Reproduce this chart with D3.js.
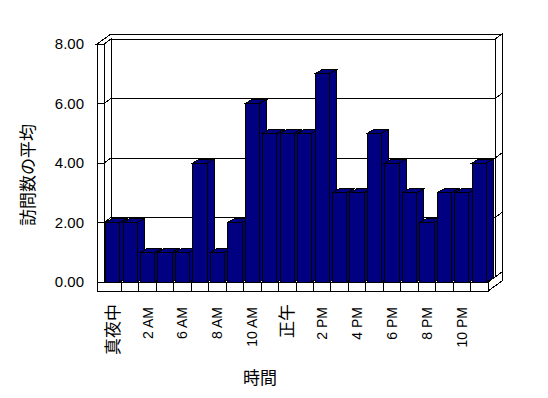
<!DOCTYPE html>
<html>
<head>
<meta charset="utf-8">
<script src="https://cdn.jsdelivr.net/npm/d3@7"></script>
<style>
  body { margin: 0; background: #fff; }
  text { font-family: "Liberation Sans", Arial, "Noto Sans CJK JP", sans-serif; fill: #000; }
</style>
</head>
<body>
<svg id="chart" width="548" height="398"></svg>
<script>
// 時間帯ごとの訪問数の平均
const categories = ["真夜中","1 AM","2 AM","3 AM","6 AM","7 AM","8 AM","9 AM","10 AM","11 AM",
    "正午","1 PM","2 PM","3 PM","4 PM","5 PM","6 PM","7 PM","8 PM","9 PM","10 PM","11 PM"]
const visits = [2,2,1,1,1,4,1,2,6,5,5,5,7,3,3,5,4,3,2,3,3,4]
const yTicks = [0,2,4,6,8]
const xTitle = "時間"
const yTitle = "訪問数の平均"

const svg = d3.select("#chart")
const BAR_COLOR = "#000080"
const DX = 7, DY = -5      // 壁の奥行き
const BDX = 7, BDY = -4    // 棒の奥行き
const WALL = 7, FLOOR = 9

let x = d3.scaleBand()
    .domain(categories)
    .range([104, 488])
    .paddingInner(0.18)
    .paddingOuter(0.09)
let xCat = d3.scaleBand()
    .domain(categories)
    .range([104, 488])
    .padding(0)
let y = d3.scaleLinear()
    .domain([0, 8])
    .range([282, 44])

const [x0, x1] = xCat.range()
const yB = y(0), yT = y(8)

// 奥行きを斜めに投影する
let p = (px, py, z) => [px + z*DX, py + z*DY]
let pb = (px, py, z) => [px + z*BDX, py + z*BDY]

let poly = (pts, fill) => svg.append("polygon")
    .attr("points", pts.map(d => d.join(",")).join(" "))
    .style("fill", fill)
    .style("stroke", "#000")
    .style("stroke-width", 1)
    .style("stroke-linejoin", "miter")
    .attr("shape-rendering", "crispEdges")

let line = (a, b) => svg.append("line")
    .attr("x1", a[0]).attr("y1", a[1])
    .attr("x2", b[0]).attr("y2", b[1])
    .style("stroke", "#000")
    .style("stroke-width", 1)
    .attr("shape-rendering", "crispEdges")

// 後ろの壁
poly([p(x0,yT,1), p(x1,yT,1), p(x1,yB,1), p(x0,yB,1)], "#fff")
poly([p(x1,yT,1), p(x1,yT,2), p(x1,yB,2), p(x1,yB,1)], "#fff")
poly([p(x0-WALL,yT,0), p(x0,yT,0), p(x0,yT,1), p(x1,yT,1), p(x1,yT,2), p(x0-WALL,yT,2)], "#fff")
// 床と左の壁
poly([p(x0,yB,0), p(x1,yB,0), p(x1,yB,1), p(x0,yB,1)], "#fff")
poly([p(x0,yT,0), p(x0,yT,1), p(x0,yB,1), p(x0,yB,0)], "#fff")
poly([p(x1,yB,0), p(x1,yB,2), p(x1,yB+FLOOR,2), p(x1,yB+FLOOR,0)], "#fff")

// 目盛線
yTicks.forEach(v => {
    const yy = y(v)
    line(p(x0,yy,1), p(x1,yy,1))
    line(p(x0,yy,0), p(x0,yy,1))
    if (v > 0) line(p(x1,yy,1), p(x1,yy,2))
})

// 棒
categories.forEach((c, i) => {
    const xl = x(c), xr = x(c) + x.bandwidth(), yv = y(visits[i])
    poly([[xl,yv], [xr,yv], [xr,yB], [xl,yB]], BAR_COLOR)
    poly([pb(xr,yv,0), pb(xr,yv,1), pb(xr,yB,1), pb(xr,yB,0)], BAR_COLOR)
    poly([pb(xl,yv,0), pb(xr,yv,0), pb(xr,yv,1), pb(xl,yv,1)], BAR_COLOR)
})

// 手前の壁と床の面
poly([[x0-WALL,yT], [x0,yT], [x0,yB], [x1,yB], [x1,yB+FLOOR], [x0-WALL,yB+FLOOR]], "#fff")
yTicks.forEach(v => line([x0-WALL, y(v)], [x0, y(v)]))
categories.slice(1).forEach(c => line([xCat(c), yB], [xCat(c), yB+FLOOR]))

// 軸ラベル
const isCJK = s => /[^\x00-\x7F]/.test(s)

svg.append("g").selectAll("text")
    .data(yTicks)
    .join("text")
    .attr("x", 84)
    .attr("y", d => y(d))
    .attr("dy", "0.35em")
    .style("text-anchor", "end")
    .style("font-size", "15px")
    .text(d3.format(".2f"))

svg.append("g").selectAll("text")
    .data(categories.filter((c, i) => i % 2 === 0))
    .join("text")
    .attr("transform", d => `translate(${xCat(d) + xCat.bandwidth()/2},${isCJK(d) ? 304 : 307}) rotate(-90)`)
    .attr("dy", "0.35em")
    .style("text-anchor", "end")
    .style("font-size", d => isCJK(d) ? "17px" : "14px")
    .text(d => d)

svg.append("text")
    .attr("x", 260)
    .attr("y", 378)
    .attr("dy", "0.35em")
    .style("text-anchor", "middle")
    .style("font-size", "17px")
    .text(xTitle)

svg.append("text")
    .attr("transform", "translate(28,175) rotate(-90)")
    .attr("dy", "0.35em")
    .style("text-anchor", "middle")
    .style("font-size", "17px")
    .text(yTitle)
</script>
</body>
</html>
